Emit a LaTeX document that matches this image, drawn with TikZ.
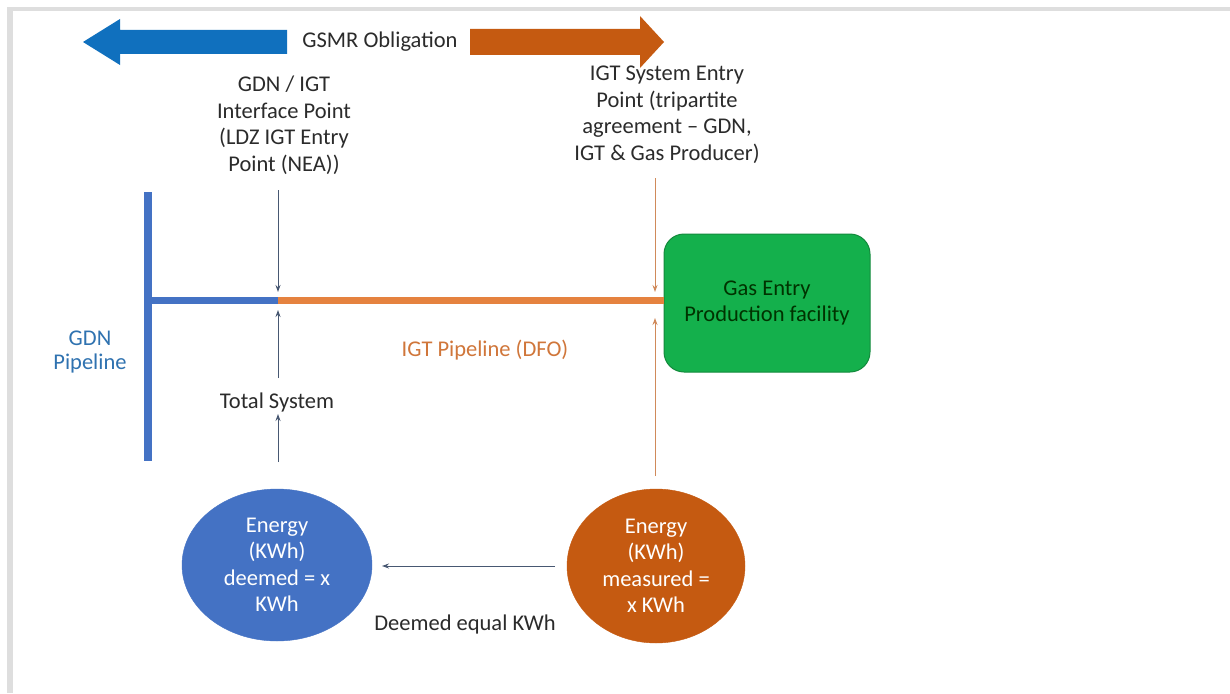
\documentclass[tikz,border=0pt]{standalone}
\usepackage{fontspec}
\setmainfont{Carlito}
\usetikzlibrary{arrows.meta,shapes.geometric}
\definecolor{topblue}{HTML}{1070BE}
\definecolor{pipeblue}{HTML}{4472C4}
\definecolor{pipeorange}{HTML}{E5823F}
\definecolor{darkorange}{HTML}{C55A11}
\definecolor{txt}{HTML}{2B2B2B}
\definecolor{thinblue}{HTML}{485872}
\definecolor{thinorange}{HTML}{D08A5A}
\definecolor{boxgreen}{HTML}{14B04C}
\definecolor{boxedge}{HTML}{138A3C}
\definecolor{gdntxt}{HTML}{2F72B0}
\definecolor{igttxt}{HTML}{D0763A}
\tikzset{
  lbl/.style={font=\fontsize{22.5}{26.5}\selectfont, text=txt, align=center, inner sep=0pt},
  thinarrow/.style={-{Stealth[length=7pt,width=5pt]}, line width=0.9pt, color=thinblue},
  thinarrowo/.style={-{Stealth[length=7pt,width=5pt]}, line width=0.9pt, color=thinorange},
  energy/.style={ellipse, minimum width=190pt, minimum height=152pt, inner sep=0pt, draw=#1, fill=#1, text=white, align=center, font=\fontsize{22.5}{26.5}\selectfont},
}
\begin{document}
\begin{tikzpicture}[x=1pt,y=-1pt]
\useasboundingbox (0,0) rectangle (1230,693);
\fill[white] (0,0) rectangle (1230,693);
% screenshot frame
\fill[black!13] (7,7) rectangle (1230,11);
\fill[black!13] (7,7) rectangle (13,693);
% top arrows
\fill[topblue] (83,42) -- (120,19) -- (120,30) -- (287,30) -- (287,54) -- (120,54) -- (120,65) -- cycle;
\fill[darkorange] (664,42) -- (640,16) -- (640,29) -- (470,29) -- (470,55) -- (640,55) -- (640,68) -- cycle;
\node[lbl] (gsmr) at (380,42) {GSMR Obligation};
% labels
\node[lbl] (gdnigt) at (284,125) {GDN / IGT\\Interface Point\\(LDZ IGT Entry\\Point (NEA))};
\node[lbl] (igtentry) at (667,115) {IGT System Entry\\Point (tripartite\\agreement – GDN,\\IGT \& Gas Producer)};
% pipelines
\coordinate (pvtop) at (148,192);
\coordinate (pvbot) at (148,461);
\coordinate (junction) at (278,300);
\coordinate (pjoin) at (148,300);
\draw[pipeblue, line width=8pt] (pvtop) -- (pvbot);
\draw[pipeblue, line width=7pt] (pjoin) -- (junction);
% green box
\node[draw=boxedge, fill=boxgreen, rounded corners=20pt, minimum width=206pt, minimum height=138pt, line width=1pt, align=center, font=\fontsize{22.5}{26.5}\selectfont, text=black!80!green] (gas) at (767,303) {Gas Entry\\Production facility};
\draw[pipeorange, line width=7pt] (junction) -- (gas.west |- junction);
% pipeline labels
\node[font=\fontsize{22.5}{24}\selectfont, text=gdntxt, align=center] (gdnp) at (90,352) {GDN\\Pipeline};
\node[font=\fontsize{22.5}{24}\selectfont, text=igttxt] (igtp) at (485,350) {IGT Pipeline (DFO)};
% thin arrows near junction
\coordinate (a1s) at (278,190);
\coordinate (a1e) at (278,292);
\draw[thinarrow] (a1s) -- (a1e);
\node[lbl] (total) at (277,402) {Total System};
\coordinate (a2s) at (278,378);
\coordinate (a2e) at (278,310);
\draw[thinarrow] (a2s) -- (a2e);
% ellipses
\node[energy=pipeblue] (deemed) at (277,565) {Energy\\(KWh)\\deemed = x\\KWh};
\node[energy=darkorange, minimum width=178pt, minimum height=154pt] (measured) at (656,566) {Energy\\(KWh)\\measured =\\x KWh};
\coordinate (a3s) at (278,462);
\coordinate (a3e) at (278,414);
\draw[thinarrow] (a3s) -- (a3e);
% orange thin arrows
\coordinate (o1s) at (655,178);
\coordinate (o1e) at (655,292);
\draw[thinarrowo] (o1s) -- (o1e);
\coordinate (o2s) at (655,476);
\coordinate (o2e) at (655,318);
\draw[thinarrowo] (o2s) -- (o2e);
% deemed equal arrow
\coordinate (d1s) at (555,566);
\coordinate (d1e) at (382,566);
\draw[thinarrow] (d1s) -- (d1e);
\node[lbl] (deq) at (465,624) {Deemed equal KWh};
\end{tikzpicture}
\end{document}
